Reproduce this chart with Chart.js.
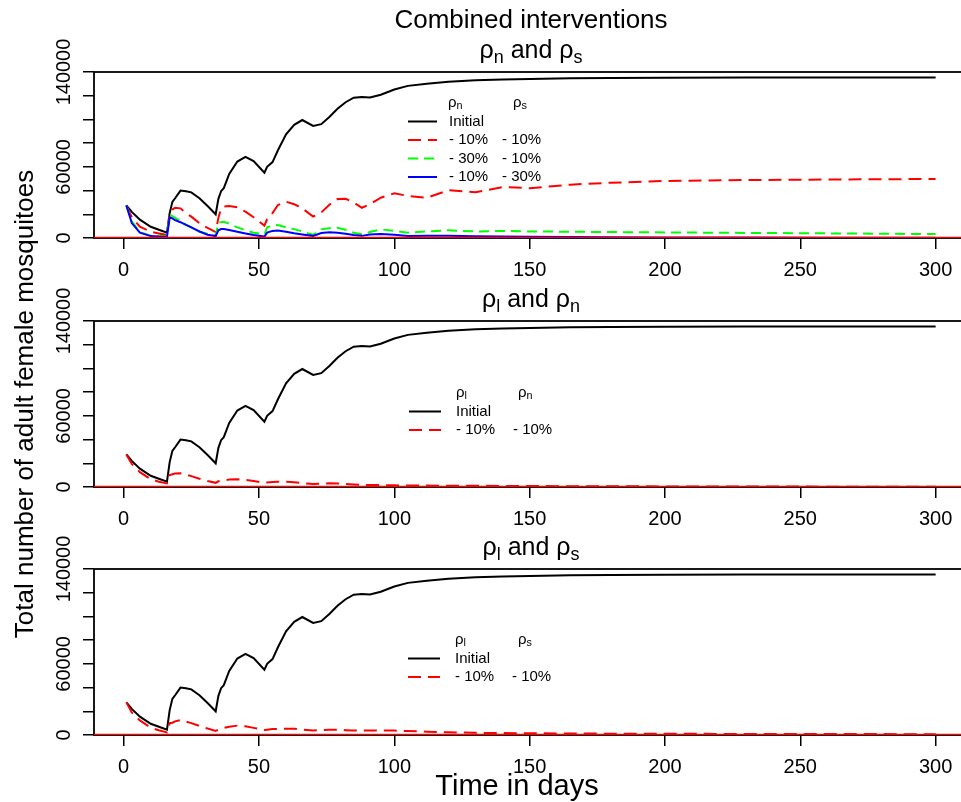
<!DOCTYPE html>
<html>
<head>
<meta charset="utf-8">
<style>
  html, body { margin: 0; padding: 0; background: #fff; width: 961px; height: 802px; overflow: hidden; }
  canvas { position: absolute; left: 0; top: 0; }
</style>
<script src="https://cdn.jsdelivr.net/npm/chart.js@4.4.1/dist/chart.umd.min.js"></script>
</head>
<body>
<canvas id="p1" width="980" height="802"></canvas>
<canvas id="p2" width="980" height="802"></canvas>
<canvas id="p3" width="980" height="802"></canvas>
<script>
// time points (days)
const days = [1, 3, 6, 10, 13, 16, 17, 18, 19, 21, 23, 25, 28, 31, 34, 35, 36, 37, 39, 42,
  45, 48, 52, 53, 55, 57, 60, 63, 66, 70, 73, 76, 79, 82, 85, 88, 91, 95, 100, 105,
  112, 120, 130, 140, 150, 165, 180, 200, 230, 260, 300];

// no intervention (same curve in every panel)
const initial = [27500, 22000, 15500, 9500, 7000, 4500, 21000, 30500, 33500, 40000,
  39500, 38500, 33500, 27000, 20000, 33000, 39500, 42000, 54000, 64500,
  68500, 64800, 55000, 60000, 64000, 74000, 87500, 95500, 99500, 94500,
  96000, 102000, 109000, 114500, 118300, 119000, 118500, 120800, 125200, 128300,
  130000, 131800, 133000, 133700, 134200, 134700, 135000, 135200, 135300, 135300, 135300];

// panel 1: rho_n and rho_s
const ns10_10 = [27500, 17500, 9500, 5200, 3800, 2500, 20800, 24000, 25500, 25000,
  21000, 18000, 12500, 8500, 5000, 17000, 25000, 26500, 27000, 26000,
  22200, 17500, 10500, 16000, 21000, 27800, 30600, 28500, 25000, 18000,
  21500, 28000, 32800, 33000, 30000, 25500, 28500, 34000, 37700, 35500,
  34000, 40300, 38500, 43000, 42000, 45000, 46600, 48100, 48900, 49300, 49800];
const ns30_10 = [27500, 14000, 5000, 2000, 1700, 1600, 19400, 18500, 17000, 14500,
  11300, 9000, 5500, 3500, 2200, 12900, 13400, 13700, 12000, 9000,
  6500, 4500, 3000, 9000, 10500, 11000, 9000, 7500, 5500, 2700,
  7300, 8300, 8700, 7000, 4500, 3200, 5000, 7300, 6000, 4500,
  5500, 6500, 5500, 6000, 5500, 5300, 5000, 4700, 4300, 3900, 3300];
const ns10_30 = [27500, 12600, 4500, 1600, 1200, 1000, 17400, 16500, 15000, 13300,
  11000, 9000, 5500, 2800, 1600, 6500, 7500, 7500, 6800, 5200,
  3800, 2500, 1200, 4500, 6000, 6300, 5300, 4000, 3000, 1800,
  4200, 4800, 4500, 3500, 2500, 1800, 3000, 3300, 2800, 1600,
  1800, 2000, 1500, 1300, 1100, 900, 700, 500, 400, 300, 300];

// panel 2: rho_l and rho_n
const ln10_10 = [27500, 19500, 12500, 6500, 4500, 3000, 10100, 10800, 11300, 11600,
  10500, 9200, 7000, 5000, 3500, 4800, 5300, 5700, 6300, 6500,
  6000, 5000, 3600, 3800, 4200, 4500, 4500, 4000, 3200, 2500,
  2800, 3100, 3000, 2600, 2200, 1800, 1700, 1600, 1400, 1300,
  1200, 1100, 1000, 900, 800, 700, 600, 500, 400, 300, 300];

// panel 3: rho_l and rho_s
const ls10_10 = [27500, 19000, 12300, 6200, 4000, 2200, 10000, 10400, 11500, 12600,
  11300, 10000, 7600, 5500, 3400, 4500, 5300, 6000, 7000, 7900,
  7400, 6000, 4200, 4500, 5000, 5200, 5300, 5200, 4600, 3900,
  4200, 4500, 4400, 4100, 3900, 3700, 3700, 3700, 3700, 3300,
  2800, 2300, 1800, 1600, 1500, 1300, 1100, 1000, 900, 800, 700];

const xTicks = [0, 50, 100, 150, 200, 250, 300];
const yTicks = [0, 20000, 40000, 60000, 80000, 100000, 120000, 140000];
const yTickLabels = [0, 60000, 140000];
const xMin = -10.96, xMax = 311.96;

const legend1 = [['Initial', ''], ['- 10%', '- 10%'], ['- 30%', '- 10%'], ['- 10%', '- 30%']];
const legend2 = [['Initial', ''], ['- 10%', '- 10%']];
const legend3 = [['Initial', ''], ['- 10%', '- 10%']];

const FONT = "'Liberation Sans', Arial, sans-serif";
const RED_DASH = [13, 7];
const GREEN_DASH = [10, 6];

function pts(vals) {
  return days.map((d, i) => ({ x: d, y: vals[i] }));
}

// text with subscripts: parts = [[text, isSub], ...]
function richText(ctx, parts, x, y, size, align) {
  const sub = size * 0.72;
  let w = 0;
  parts.forEach(p => {
    ctx.font = (p[1] ? sub : size) + 'px ' + FONT;
    w += ctx.measureText(p[0]).width;
  });
  let cx = align === 'center' ? x - w / 2 : x;
  ctx.textAlign = 'left';
  parts.forEach(p => {
    ctx.font = (p[1] ? sub : size) + 'px ' + FONT;
    ctx.fillText(p[0], cx, p[1] ? y + size * 0.2 : y);
    cx += ctx.measureText(p[0]).width;
  });
}

function drawDecor(chart, spec) {
  const ctx = chart.ctx;
  const area = chart.chartArea;
  const ys = chart.scales.y;
  ctx.save();
  ctx.fillStyle = '#000';

  // y tick labels, rotated like R
  ctx.font = '20px ' + FONT;
  ctx.textAlign = 'center';
  ctx.textBaseline = 'middle';
  yTickLabels.forEach(v => {
    ctx.save();
    ctx.translate(64.5, ys.getPixelForValue(v));
    ctx.rotate(-Math.PI / 2);
    ctx.fillText(String(v), 0, 0);
    ctx.restore();
  });

  // panel title
  ctx.textBaseline = 'alphabetic';
  richText(ctx, spec.title, (area.left + area.right) / 2, area.top - 14, 25, 'center');

  // legend
  const lg = spec.legend;
  ctx.textBaseline = 'middle';
  let ly = area.top + lg.top;
  richText(ctx, lg.heads[0], lg.hx[0], ly, 15, 'left');
  richText(ctx, lg.heads[1], lg.hx[1], ly, 15, 'left');
  ctx.font = '15px ' + FONT;
  const sets = chart.data.datasets.filter(d => d.label);
  lg.rows.forEach((row, i) => {
    ly += lg.dy;
    const ds = sets[i];
    ctx.save();
    ctx.strokeStyle = ds.borderColor;
    ctx.lineWidth = 2;
    ctx.setLineDash(ds.borderDash || []);
    ctx.beginPath();
    ctx.moveTo(lg.lx[0], ly);
    ctx.lineTo(lg.lx[1], ly);
    ctx.stroke();
    ctx.restore();
    ctx.textAlign = 'left';
    ctx.fillText(row[0], lg.tx[0], ly);
    if (row[1]) ctx.fillText(row[1], lg.tx[1], ly);
  });

  if (spec.extra) spec.extra(ctx, area);
  ctx.restore();
}

function makePanel(id, top, series, spec) {
  const bottom = top + 166;
  const datasets = [{
    data: [{ x: xMin, y: 0 }, { x: xMax, y: 0 }],
    borderColor: '#ff0000', borderWidth: 2.5, order: 0
  }];
  series.forEach((s, i) => {
    datasets.push({
      label: s.label, data: pts(s.values), borderColor: s.color,
      borderDash: s.dash, borderWidth: 2, order: series.length - i
    });
  });
  new Chart(document.getElementById(id), {
    type: 'line',
    data: { datasets },
    options: {
      responsive: false, animation: false, events: [], devicePixelRatio: 1,
      layout: { padding: { left: 0, right: 12, top: top, bottom: 802 - bottom - 40 } },
      elements: { point: { radius: 0 }, line: { tension: 0 } },
      plugins: { legend: { display: false }, tooltip: { enabled: false } },
      scales: {
        x: {
          type: 'linear', min: xMin, max: xMax,
          afterBuildTicks: s => { s.ticks = xTicks.map(v => ({ value: v })); },
          afterFit: s => { s.height = 40; },
          border: { display: false },
          grid: { drawOnChartArea: false, drawTicks: true, tickLength: 11, color: '#000', lineWidth: 1.5 },
          ticks: { color: '#000', font: { family: FONT, size: 20 }, padding: 9, maxRotation: 0, autoSkip: false }
        },
        y: {
          type: 'linear', min: 0, max: 140000,
          afterBuildTicks: s => { s.ticks = yTicks.map(v => ({ value: v })); },
          afterFit: s => { s.width = 94; },
          border: { display: false },
          grid: { drawOnChartArea: false, drawTicks: true, tickLength: 11, color: '#000', lineWidth: 1.5 },
          ticks: { display: false }
        }
      }
    },
    plugins: [{
      id: 'decor',
      beforeDatasetsDraw(chart) {
        const a = chart.chartArea;
        const c = chart.ctx;
        c.save();
        c.strokeStyle = '#000';
        c.lineWidth = 1.8;
        c.strokeRect(a.left, a.top, a.right - a.left, a.bottom - a.top);
        c.restore();
      },
      afterDraw(chart) { drawDecor(chart, spec); }
    }]
  });
}

makePanel('p1', 72, [
  { label: 'Initial', values: initial, color: '#000000', dash: [] },
  { label: 'n10s10', values: ns10_10, color: '#ff0000', dash: RED_DASH },
  { label: 'n30s10', values: ns30_10, color: '#00ff00', dash: GREEN_DASH },
  { label: 'n10s30', values: ns10_30, color: '#0000ff', dash: [] }
], {
  title: [['ρ'], ['n', 1], [' and '], ['ρ'], ['s', 1]],
  legend: {
    top: 31, dy: 18.5, lx: [408, 437], tx: [449, 502], hx: [448, 513],
    heads: [[['ρ'], ['n', 1]], [['ρ'], ['s', 1]]], rows: legend1
  },
  extra: (ctx, area) => {
    ctx.textBaseline = 'alphabetic';
    ctx.textAlign = 'center';
    ctx.font = '26px ' + FONT;
    ctx.fillText('Combined interventions', (area.left + area.right) / 2, 28);
  }
});

makePanel('p2', 321, [
  { label: 'Initial', values: initial, color: '#000000', dash: [] },
  { label: 'l10n10', values: ln10_10, color: '#ff0000', dash: RED_DASH }
], {
  title: [['ρ'], ['l', 1], [' and '], ['ρ'], ['n', 1]],
  legend: {
    top: 72, dy: 18.5, lx: [409, 441], tx: [456, 513], hx: [456, 518],
    heads: [[['ρ'], ['l', 1]], [['ρ'], ['n', 1]]], rows: legend2
  },
  extra: (ctx) => {
    ctx.save();
    ctx.translate(33, 404);
    ctx.rotate(-Math.PI / 2);
    ctx.textAlign = 'center';
    ctx.textBaseline = 'alphabetic';
    ctx.font = '26px ' + FONT;
    ctx.fillText('Total number of adult female mosquitoes', 0, 0);
    ctx.restore();
  }
});

makePanel('p3', 569, [
  { label: 'Initial', values: initial, color: '#000000', dash: [] },
  { label: 'l10s10', values: ls10_10, color: '#ff0000', dash: RED_DASH }
], {
  title: [['ρ'], ['l', 1], [' and '], ['ρ'], ['s', 1]],
  legend: {
    top: 71, dy: 18.5, lx: [408, 440], tx: [455, 512], hx: [455, 518],
    heads: [[['ρ'], ['l', 1]], [['ρ'], ['s', 1]]], rows: legend3
  },
  extra: (ctx) => {
    ctx.textAlign = 'center';
    ctx.textBaseline = 'alphabetic';
    ctx.font = '29px ' + FONT;
    ctx.fillText('Time in days', 517, 795);
  }
});
</script>
</body>
</html>
